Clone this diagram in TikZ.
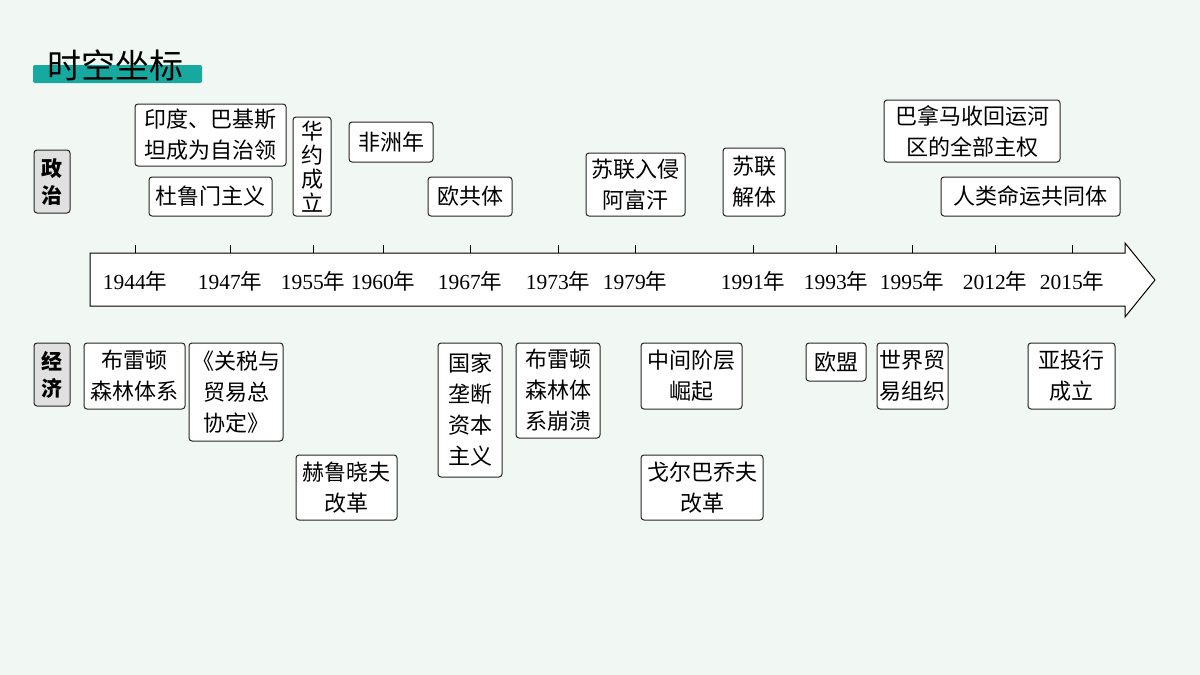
\documentclass[tikz,border=0pt]{standalone}
\usepackage{fontspec}
\setmainfont{Liberation Serif}
\newfontfamily\cjk{Noto Sans CJK SC}
\definecolor{bgc}{HTML}{F1F7F3}
\definecolor{teal1}{HTML}{17A9A0}
\begin{document}
\begin{tikzpicture}[x=1pt,y=-1pt,
  bx/.style={draw=black!85,line width=1pt,rounded corners=3pt,fill=white,inner sep=0pt,align=center,font=\cjk\fontsize{22}{31}\selectfont},
  cat/.style={bx,fill=black!12,font=\cjk\bfseries\fontsize{21}{27}\selectfont},
  yr/.style={font=\fontsize{21.5}{21}\selectfont},
  tk/.style={line width=0.8pt}]
\fill[bgc] (0,0) rectangle (1200,675);
\useasboundingbox (0,0) rectangle (1200,675);
% title
\fill[teal1,rounded corners=2pt] (33,65) rectangle (202,83);
\node[anchor=west,font=\cjk\fontsize{34}{34}\selectfont] (title) at (44,65) {时空坐标};
% arrow
\draw[line width=1pt,fill=white] (90,253) -- (1125,253) -- (1125,243) -- (1155,280) -- (1125,317) -- (1125,306) -- (90,306) -- cycle;
\foreach \x/\y [count=\i] in {135/1944,230/1947,313/1955,383/1960,470/1967,558/1973,635/1979,753/1991,836/1993,912/1995,995/2012,1072/2015}{
  \draw[tk] (\x,253) -- (\x,245);
  \node[yr] (y\i) at (\x,281) {\y{\cjk 年}};
}
% category
\node[cat,minimum width=36,minimum height=63] (zz) at (52,181.5) {政\\治};
\node[cat,minimum width=36,minimum height=63] (jj) at (52,374.5) {经\\济};
% politics
\newcommand\bxat[6]{\node[bx,minimum width=#3,minimum height=#4] (#1) at (#2) {#5};}
\bxat{p1}{210.5,135}{151}{62}{印度、巴基斯\\坦成为自治领}{}
\bxat{p2}{210.5,196.5}{123}{39}{杜鲁门主义}{}
\node[bx,minimum width=38,minimum height=99,font=\cjk\fontsize{22}{24}\selectfont] (p3) at (312,166.5) {华\\约\\成\\立};
\bxat{p4}{391,142}{84}{40}{非洲年}{}
\bxat{p5}{470,196.5}{84}{39}{欧共体}{}
\bxat{p6}{635.5,184.5}{99}{63}{苏联入侵\\阿富汗}{}
\bxat{p7}{754,182}{62}{68}{苏联\\解体}{}
\bxat{p8}{972,131}{176}{62}{巴拿马收回运河\\区的全部主权}{}
\bxat{p9}{1030.5,196.5}{179}{39}{人类命运共同体}{}
% economy
\bxat{e1}{134.5,376}{101}{66}{布雷顿\\森林体系}{}
\bxat{e2}{236,392}{94}{98}{《关税与\\贸易总\\协定》}{}
\bxat{e3}{346.5,487.5}{101}{65}{赫鲁晓夫\\改革}{}
\bxat{e4}{470,410}{64}{134}{国家\\垄断\\资本\\主义}{}
\bxat{e5}{558,390.5}{84}{95}{布雷顿\\森林体\\系崩溃}{}
\bxat{e6}{691.5,376}{101}{66}{中间阶层\\崛起}{}
\bxat{e7}{702,487.5}{122}{65}{戈尔巴乔夫\\改革}{}
\bxat{e8}{836,362}{60}{38}{欧盟}{}
\bxat{e9}{912.5,376}{71}{66}{世界贸\\易组织}{}
\bxat{e10}{1071.5,376}{87}{66}{亚投行\\成立}{}
\end{tikzpicture}
\end{document}
